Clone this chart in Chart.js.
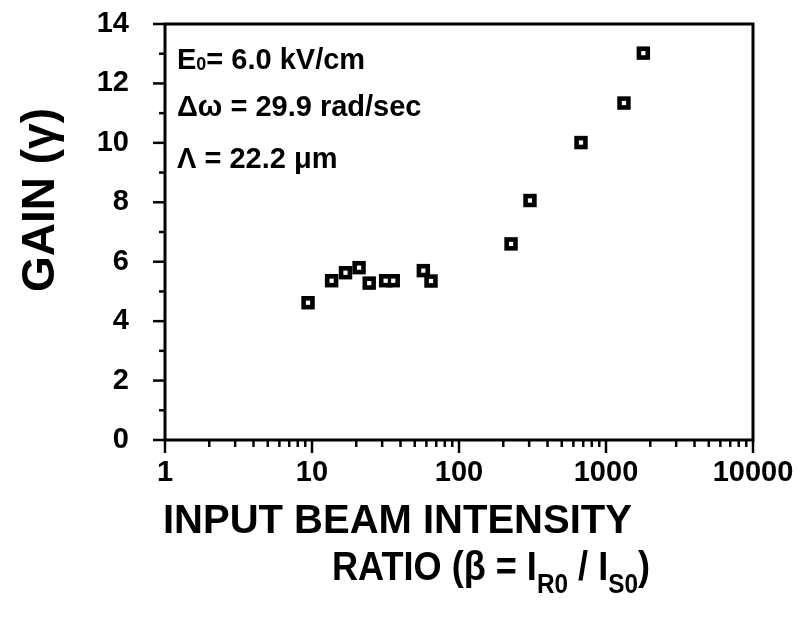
<!DOCTYPE html>
<html>
<head>
<meta charset="utf-8">
<script src="https://cdn.jsdelivr.net/npm/chart.js@4"></script>
<style>
  body { margin: 0; background: #fff; }
  #wrap { width: 805px; height: 625px; }
</style>
</head>
<body>
<div id="wrap"><canvas id="gainChart" width="805" height="625"></canvas></div>
<script>
// data
const ratio = [9.4, 13.6, 16.9, 20.9, 24.5, 31.7, 35.7, 57.2, 64.5, 226, 304, 676, 1325, 1795];
const gain  = [4.62, 5.36, 5.63, 5.80, 5.28, 5.36, 5.36, 5.70, 5.35, 6.60, 8.06, 10.01, 11.34, 13.02];
const xDecades = [1, 10, 100, 1000, 10000];
const yTicks = [0, 2, 4, 6, 8, 10, 12, 14];

const FONT = "'Liberation Sans', Arial, Helvetica, sans-serif";
const points = ratio.map((r, i) => ({ x: r, y: gain[i] }));

// axis frame + tick marks + titles
const decor = {
    id: 'decor',
    beforeDatasetsDraw(chart) {
        const c = chart.ctx, a = chart.chartArea;
        const xs = chart.scales.x, ys = chart.scales.y;
        c.save();
        c.strokeStyle = '#000';
        c.lineWidth = 3;
        c.strokeRect(a.left, a.top, a.right - a.left, a.bottom - a.top);

        c.lineWidth = 2.5;
        // y ticks, major every 2, minor in between
        for (let v = 0; v <= 14; v++) {
            const py = ys.getPixelForValue(v);
            const len = v % 2 === 0 ? 12 : 6;
            c.beginPath();
            c.moveTo(a.left - len, py);
            c.lineTo(a.left, py);
            c.stroke();
        }
        // x ticks, log decades + minors
        xDecades.forEach(d => {
            for (let m = 1; m <= 9; m++) {
                const v = d * m;
                if (v > 10000) break;
                const px = xs.getPixelForValue(v);
                const len = m === 1 ? 13 : 7;
                c.beginPath();
                c.moveTo(px, a.bottom);
                c.lineTo(px, a.bottom + len);
                c.stroke();
            }
        });
        c.restore();
    },
    afterDraw(chart) {
        const c = chart.ctx;
        c.save();
        c.fillStyle = '#000';
        c.textBaseline = 'alphabetic';

        // y title
        c.save();
        c.translate(54, 200);
        c.rotate(-Math.PI / 2);
        c.textAlign = 'center';
        c.font = `bold 46px ${FONT}`;
        c.fillText('GAIN (γ)', 0, 0);
        c.restore();

        // x title
        c.textAlign = 'left';
        c.font = `bold 40px ${FONT}`;
        c.fillText('INPUT BEAM INTENSITY', 163, 533);

        const parts = [
            ['RATIO (β = I', 40, 0],
            ['R0', 27, 13],
            [' / I', 40, 0],
            ['S0', 27, 13],
            [')', 40, 0]
        ];
        let total = 0;
        parts.forEach(p => { c.font = `bold ${p[1]}px ${FONT}`; total += c.measureText(p[0]).width; });
        c.save();
        c.translate(332, 580);
        c.scale(318 / total, 1);
        let x = 0;
        parts.forEach(p => {
            c.font = `bold ${p[1]}px ${FONT}`;
            c.fillText(p[0], x, p[2]);
            x += c.measureText(p[0]).width;
        });
        c.restore();

        // parameters in plot
        x = 177;
        const line = (t, size, y, dy) => {
            c.font = `bold ${size}px ${FONT}`;
            c.fillText(t, x, y + dy);
            x += c.measureText(t).width;
        };
        line('E', 29, 69, 0);
        line('0', 18, 69, 1);
        line('= 6.0 kV/cm', 29, 69, 0);
        x = 177;
        line('Δω = 29.9 rad/sec', 29, 116, 0);
        x = 177;
        line('Λ = 22.2 μm', 29, 168, 0);
        c.restore();
    }
};

new Chart(document.getElementById('gainChart'), {
    type: 'scatter',
    data: {
        datasets: [{
            // black square
            data: points,
            order: 2,
            pointStyle: 'rect',
            pointRadius: 9.5,
            pointHoverRadius: 9.5,
            pointBackgroundColor: '#000',
            pointBorderColor: '#000',
            pointBorderWidth: 0
        }, {
            // small white centre
            data: points,
            order: 1,
            pointStyle: 'rect',
            pointRadius: 3,
            pointHoverRadius: 3,
            pointBackgroundColor: '#fff',
            pointBorderColor: '#fff',
            pointBorderWidth: 0
        }]
    },
    options: {
        responsive: false,
        animation: false,
        layout: { padding: { left: 0, top: 24, right: 52, bottom: 0 } },
        plugins: { legend: { display: false }, tooltip: { enabled: false } },
        scales: {
            x: {
                type: 'logarithmic',
                min: 1,
                max: 10000,
                grid: { display: false },
                border: { display: false },
                afterFit: s => { s.height = 185; s.paddingLeft = 0; s.paddingRight = 0; },
                afterBuildTicks: s => { s.ticks = xDecades.map(v => ({ value: v, major: true })); },
                ticks: {
                    color: '#000',
                    font: { family: FONT, size: 29, weight: 'bold' },
                    padding: 8,
                    maxRotation: 0,
                    autoSkip: false,
                    callback: v => String(v)
                }
            },
            y: {
                min: 0,
                max: 14,
                grid: { display: false },
                border: { display: false },
                afterFit: s => { s.width = 165; s.paddingTop = 0; s.paddingBottom = 0; },
                afterBuildTicks: s => { s.ticks = yTicks.map(v => ({ value: v })); },
                ticks: {
                    color: '#000',
                    font: { family: FONT, size: 29, weight: 'bold' },
                    padding: 28
                }
            }
        }
    },
    plugins: [decor]
});
</script>
</body>
</html>
